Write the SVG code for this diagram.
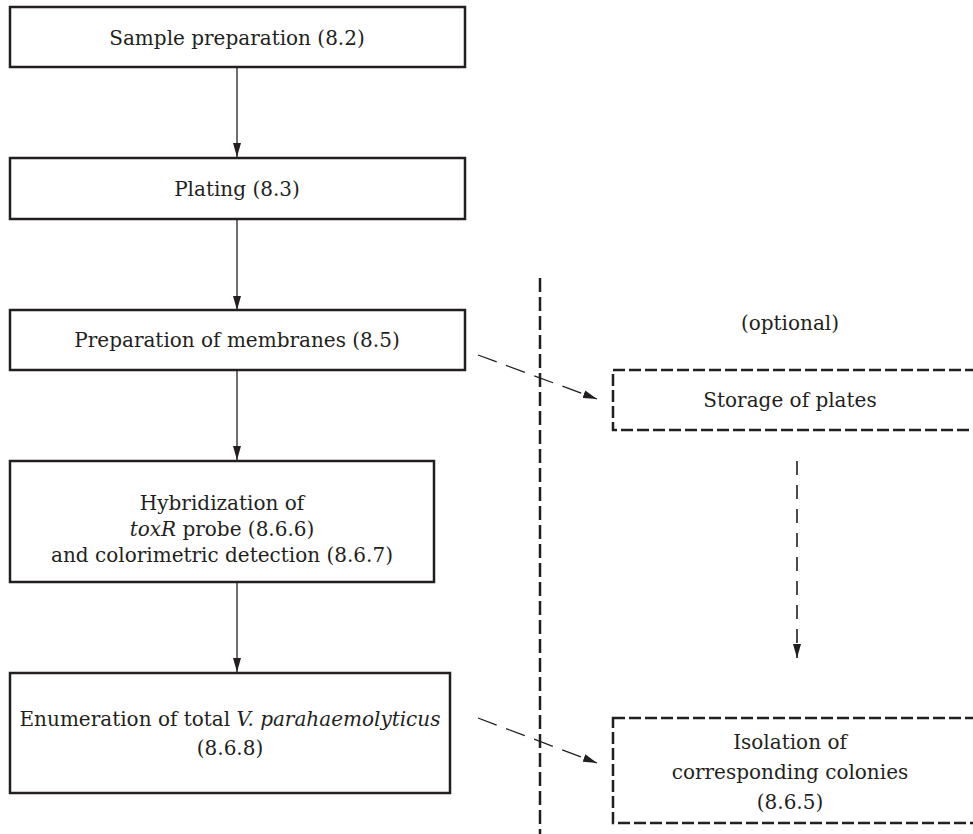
<svg xmlns="http://www.w3.org/2000/svg" width="973" height="834" viewBox="0 0 973 834">
<style>
  .box { fill: #fff; stroke: #231f20; stroke-width: 2.5; }
  .dbox { fill: #fff; stroke: #231f20; stroke-width: 2.5; stroke-dasharray: 12 4; }
  .t { font-family: "DejaVu Serif", "Liberation Serif", serif; font-size: 20px; fill: #231f20; text-anchor: middle; }
  .i { font-style: italic; }
  .line { stroke: #231f20; stroke-width: 1.3; fill: none; }
  .dline { stroke: #231f20; stroke-width: 1.3; fill: none; stroke-dasharray: 20 10; }
  .vdash { stroke: #231f20; stroke-width: 1.6; fill: none; stroke-dasharray: 14 10; }
  .div { stroke: #231f20; stroke-width: 2.5; fill: none; stroke-dasharray: 14 5; }
</style>
<defs>
  <marker id="ah" markerWidth="14" markerHeight="8" refX="14" refY="4" orient="auto" markerUnits="userSpaceOnUse">
    <path d="M0,0 L14,4 L0,8 Z" fill="#231f20"/>
  </marker>
</defs>
<rect width="973" height="834" fill="#fff"/>
<g id="connectors">
  <line class="line" x1="237" y1="68" x2="237" y2="157" marker-end="url(#ah)"/>
  <line class="line" x1="237" y1="219" x2="237" y2="310" marker-end="url(#ah)"/>
  <line class="line" x1="237" y1="370" x2="237" y2="460" marker-end="url(#ah)"/>
  <line class="line" x1="237" y1="582" x2="237" y2="672" marker-end="url(#ah)"/>
  <line class="dline" x1="478" y1="355" x2="597" y2="399" marker-end="url(#ah)"/>
  <line class="dline" x1="478" y1="718" x2="597" y2="763" marker-end="url(#ah)"/>
  <line class="vdash" x1="797" y1="461" x2="797" y2="658" marker-end="url(#ah)"/>
</g>
<g id="divider">
  <line class="div" x1="540" y1="278" x2="540" y2="834"/>
</g>
<g id="n1">
  <rect class="box" x="10" y="7" width="455" height="60"/>
  <text class="t" x="237" y="45">Sample preparation (8.2)</text>
</g>
<g id="n2">
  <rect class="box" x="10" y="158" width="455" height="61"/>
  <text class="t" x="237" y="196">Plating (8.3)</text>
</g>
<g id="n3">
  <rect class="box" x="10" y="310" width="455" height="60"/>
  <text class="t" x="237" y="347">Preparation of membranes (8.5)</text>
</g>
<g id="n4">
  <rect class="box" x="10" y="461" width="424" height="121"/>
  <text class="t" x="222" y="510">Hybridization of</text>
  <text class="t" x="222" y="536"><tspan class="i">toxR</tspan> probe (8.6.6)</text>
  <text class="t" x="222" y="562">and colorimetric detection (8.6.7)</text>
</g>
<g id="n5">
  <rect class="box" x="10" y="673" width="440" height="120"/>
  <text class="t" x="230" y="726">Enumeration of total <tspan class="i">V. parahaemolyticus</tspan></text>
  <text class="t" x="230" y="755">(8.6.8)</text>
</g>
<g id="optional">
  <text class="t" x="790" y="330">(optional)</text>
</g>
<g id="n6">
  <rect class="dbox" x="613" y="370" width="380" height="60"/>
  <text class="t" x="790" y="407">Storage of plates</text>
</g>
<g id="n7">
  <rect class="dbox" x="613" y="718" width="380" height="105"/>
  <text class="t" x="790" y="749">Isolation of</text>
  <text class="t" x="790" y="779">corresponding colonies</text>
  <text class="t" x="790" y="809">(8.6.5)</text>
</g>
</svg>
